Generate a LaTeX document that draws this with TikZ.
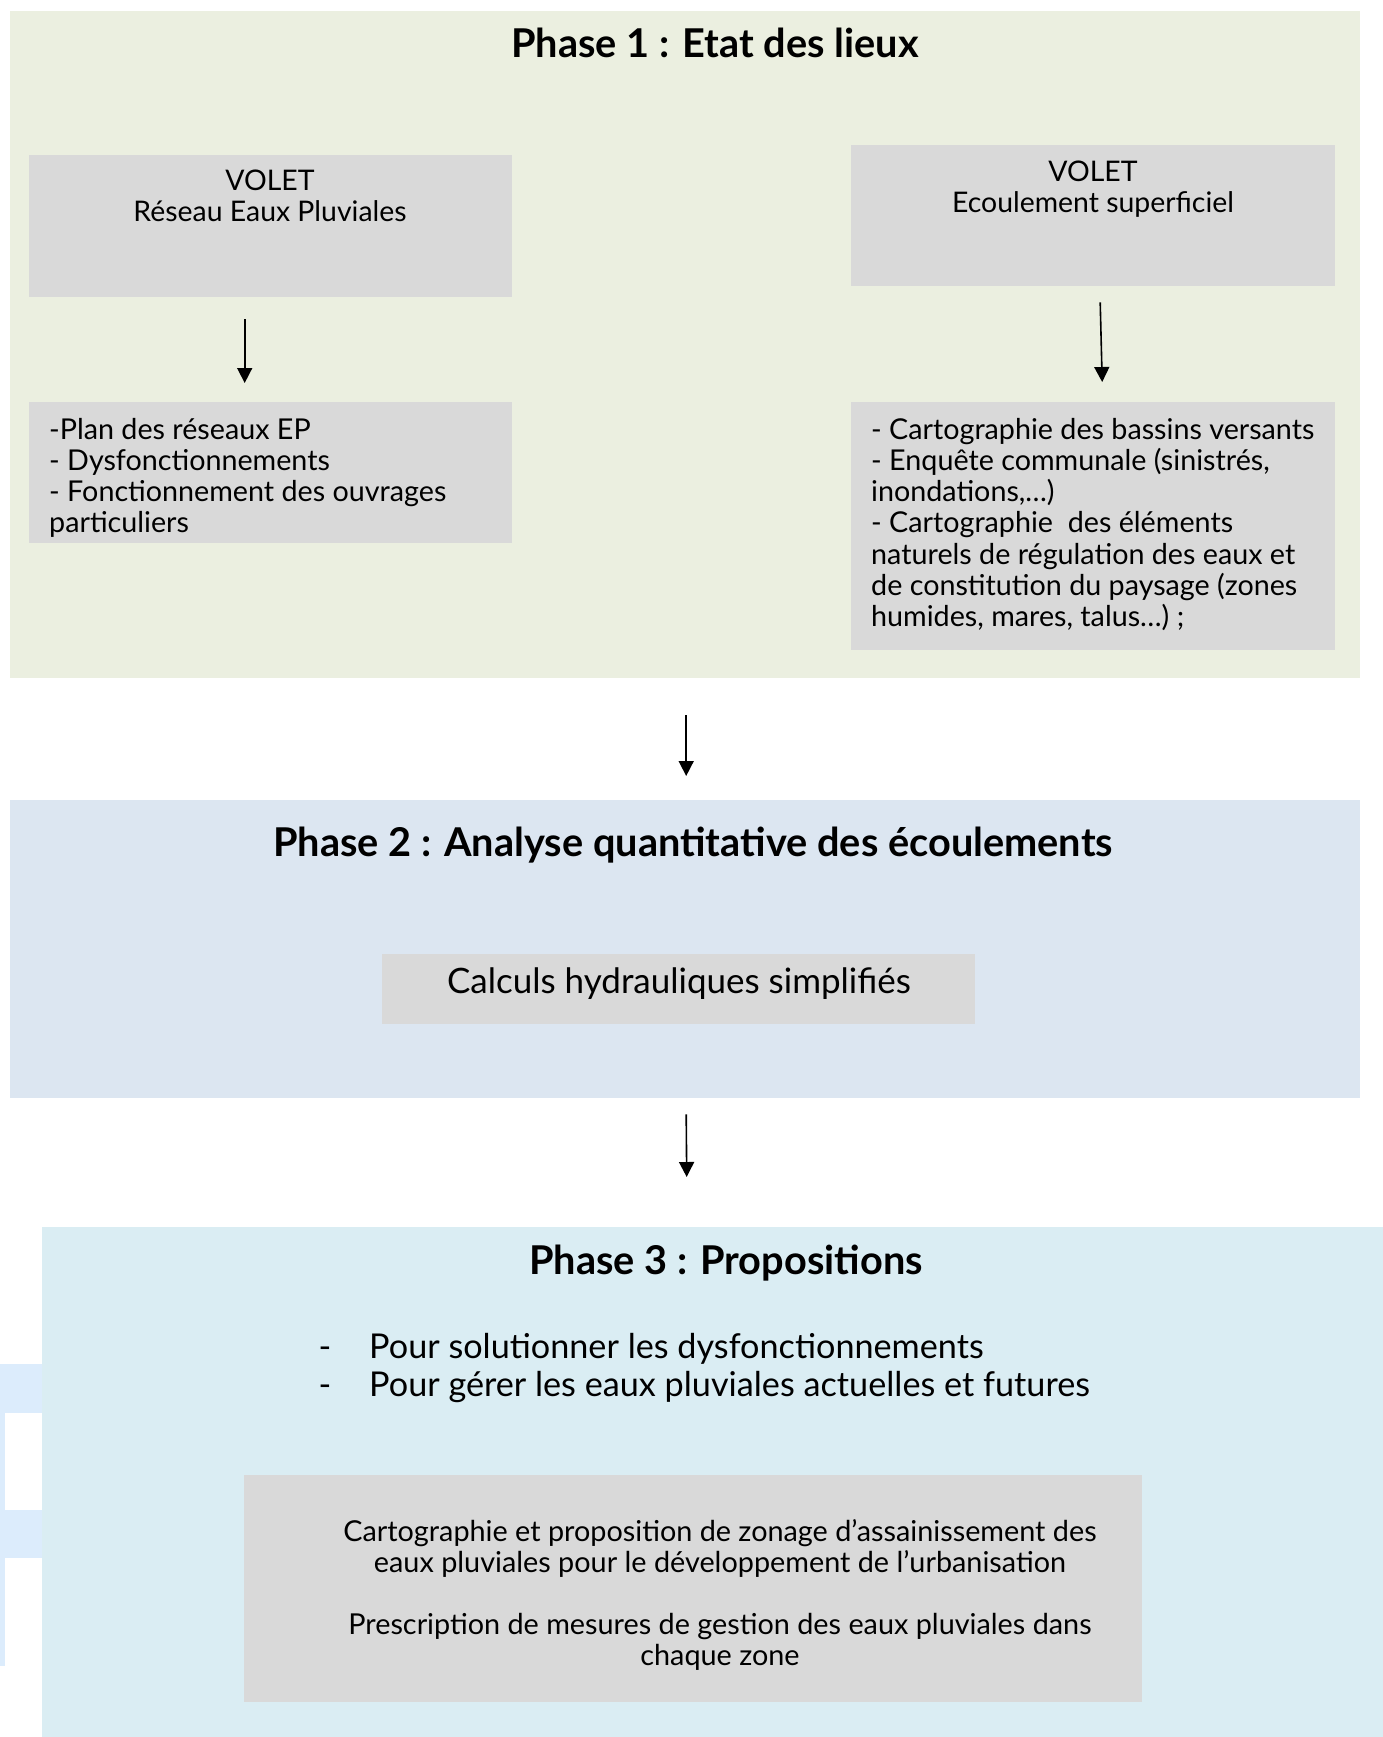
\documentclass[tikz,border=0pt]{standalone}
\usepackage{fontspec}
\setmainfont{Lato}
\usetikzlibrary{positioning,arrows.meta}

\definecolor{phaseA}{HTML}{EBEFE0}
\definecolor{phaseB}{HTML}{DCE6F1}
\definecolor{phaseC}{HTML}{DAEDF3}
\definecolor{boxgrey}{HTML}{D9D9D9}
\definecolor{stripblue}{HTML}{DCECFC}

\tikzset{
  panel/.style={anchor=north west, inner sep=0pt, minimum width=1350},
  greybox/.style={fill=boxgrey, anchor=north west, inner sep=0pt},
  arr/.style={-{Triangle[width=15pt,length=15pt]}, line width=1.6pt},
  phasetitle/.style={anchor=base, inner sep=0pt, font=\fontsize{39.7}{46}\selectfont\bfseries},
  voltext/.style={anchor=north, inner sep=0pt, align=center, font=\fontsize{28.4}{31}\selectfont},
  listtext/.style={anchor=north west, inner sep=0pt, align=left, font=\fontsize{28.7}{31.2}\selectfont},
  bullettext/.style={inner sep=0pt, font=\fontsize{34.2}{38}\selectfont},
}

\begin{document}
\begin{tikzpicture}[x=1pt,y=-1pt]
\useasboundingbox (0,0) rectangle (1383,1737);

% bits on the left margin
\fill[stripblue] (0,1364) rectangle (43,1666);
\fill[white] (5,1413) rectangle (43,1510);
\fill[white] (5,1558) rectangle (43,1666);

% Phase 1
\node[panel, fill=phaseA, minimum height=667] (ph1) at (10,11) {};
\node[phasetitle] (t1) at (715,58) {Phase 1 : Etat des lieux};

\node[greybox, minimum width=483, minimum height=142] (volA) at (29,155) {};
\node[voltext] (volAtxt) at (270,170) {VOLET\\Réseau Eaux Pluviales};
\node[greybox, minimum width=484, minimum height=141] (volB) at (851,145) {};
\node[voltext] (volBtxt) at (1093,161) {VOLET\\Ecoulement superficiel};

\node[greybox, minimum width=483, minimum height=141] (listA) at (29,402) {};
\node[listtext] (listAtxt) at (49,418) {-Plan des réseaux EP\\- Dysfonctionnements\\- Fonctionnement des ouvrages\\particuliers};
\node[greybox, minimum width=484, minimum height=248] (listB) at (851,402) {};
\node[listtext] (listBtxt) at (871,418) {- Cartographie des bassins versants\\- Enquête communale (sinistrés,\\inondations,…)\\- Cartographie\ \ des éléments\\naturels de régulation des eaux et\\de constitution du paysage (zones\\humides, mares, talus…) ;};

\draw[arr] ([xshift=-26pt,yshift=-22pt]volA.south) -- ([xshift=-26pt,yshift=19pt]listA.north);
\draw[arr] ([xshift=7pt,yshift=-16pt]volB.south) -- ([xshift=9pt,yshift=20pt]listB.north);

% Phase 2
\node[panel, fill=phaseB, minimum height=298] (ph2) at (10,800) {};
\node[phasetitle] (t2) at (693,856) {Phase 2 : Analyse quantitative des écoulements};
\node[greybox, minimum width=593, minimum height=70] (calc) at (382,954) {};
\node[inner sep=0pt, font=\fontsize{35}{40}\selectfont] (calctxt) at (679,984) {Calculs hydrauliques simplifiés};

\draw[arr] ([xshift=1pt,yshift=-37pt]ph1.south) -- ([xshift=1pt,yshift=24pt]ph2.north);

% Phase 3
\node[panel, fill=phaseC, minimum width=1341, minimum height=510] (ph3) at (42,1227) {};
\node[phasetitle] (t3) at (726,1274) {Phase 3 : Propositions};

\node[bullettext, anchor=base] (d1) at (325,1358) {-};
\node[bullettext, anchor=base west] (b1) at (369,1358) {Pour solutionner les dysfonctionnements};
\node[bullettext, anchor=base] (d2) at (325,1396) {-};
\node[bullettext, anchor=base west] (b2) at (369,1396) {Pour gérer les eaux pluviales actuelles et futures};

\node[greybox, minimum width=898, minimum height=227] (zon) at (244,1475) {};
\node[anchor=north, inner sep=0pt, align=center, font=\fontsize{28.8}{31}\selectfont] (zontxt) at (720,1519) {Cartographie et proposition de zonage d’assainissement des\\eaux pluviales pour le développement de l’urbanisation\\[31pt]Prescription de mesures de gestion des eaux pluviales dans\\chaque zone};

\draw[arr] ([xshift=1pt,yshift=-16pt]ph2.south) -- ([xshift=-26pt,yshift=50pt]ph3.north);
\end{tikzpicture}
\end{document}
